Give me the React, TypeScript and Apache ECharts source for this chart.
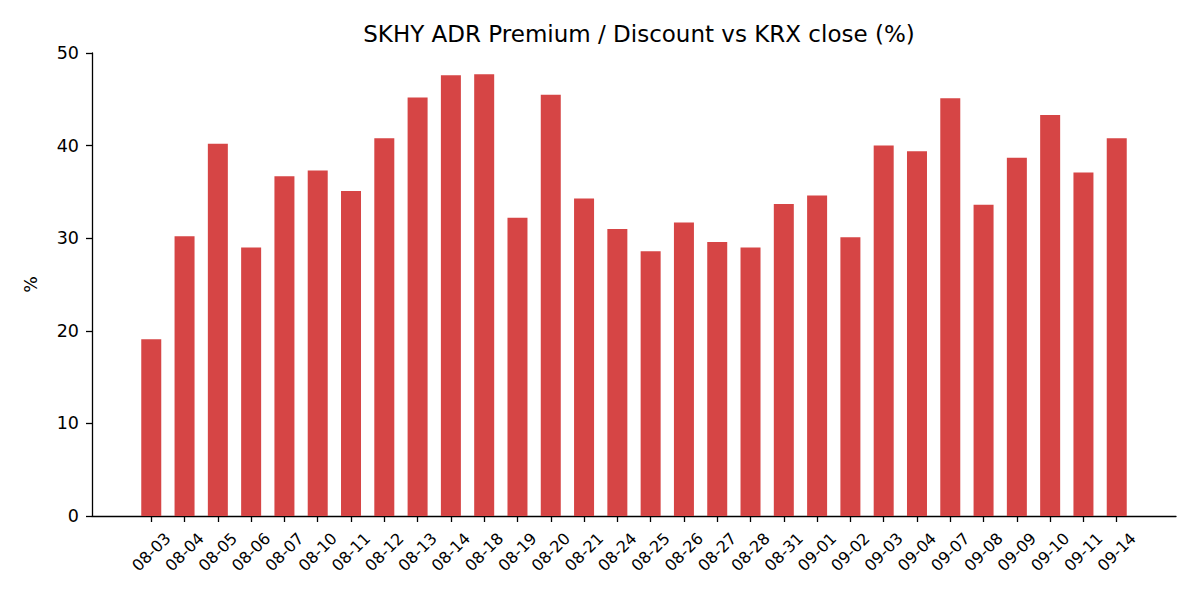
import { useEffect, useRef } from "react";
import * as echarts from "echarts";

const dates = [
  "08-03", "08-04", "08-05", "08-06", "08-07", "08-10", "08-11", "08-12",
  "08-13", "08-14", "08-18", "08-19", "08-20", "08-21", "08-24", "08-25",
  "08-26", "08-27", "08-28", "08-31", "09-01", "09-02", "09-03", "09-04",
  "09-07", "09-08", "09-09", "09-10", "09-11", "09-14"
];

const premium = [
  19.1, 30.2, 40.2, 29.0, 36.7, 37.3, 35.1, 40.8,
  45.2, 47.6, 47.7, 32.2, 45.5, 34.3, 31.0, 28.6,
  31.7, 29.6, 29.0, 33.7, 34.6, 30.1, 40.0, 39.4,
  45.1, 33.6, 38.7, 43.3, 37.1, 40.8
];

const yTicks = [0, 10, 20, 30, 40, 50];

const FONT = "DejaVu Sans";

export default function App() {
  const ref = useRef<HTMLDivElement | null>(null);

  useEffect(() => {
    if (!ref.current) return undefined;
    const chart = echarts.init(ref.current, undefined, { renderer: "svg" });
    const idx = dates.map((_, i) => i);

    chart.setOption({
      animation: false,
      backgroundColor: "#ffffff",
      title: {
        text: "SKHY ADR Premium / Discount vs KRX close (%)",
        left: 634,
        top: 17,
        textAlign: "center",
        textStyle: { fontFamily: FONT, fontSize: 23, fontWeight: "normal", color: "#000" }
      },
      grid: { left: 92, right: 24, top: 53, bottom: 84 },
      xAxis: {
        type: "value",
        min: -1.78,
        max: 30.78,
        splitLine: { show: false },
        axisLine: { show: true, onZero: false, lineStyle: { color: "#000", width: 1.3 } },
        axisTick: {
          show: true,
          customValues: idx,
          length: 6,
          lineStyle: { color: "#000", width: 1.3 }
        },
        axisLabel: {
          customValues: idx,
          rotate: 45,
          align: "center",
          verticalAlign: "middle",
          margin: 36,
          fontFamily: FONT,
          fontSize: 16,
          color: "#000",
          formatter: (v: number) => dates[Math.round(v)] ?? ""
        }
      },
      yAxis: {
        type: "value",
        min: 0,
        max: 50,
        interval: 10,
        name: "%",
        nameLocation: "middle",
        nameRotate: 90,
        nameGap: 52,
        nameTextStyle: { fontFamily: FONT, fontSize: 17.5, color: "#000" },
        splitLine: { show: false },
        axisLine: { show: true, onZero: false, lineStyle: { color: "#000", width: 1.3 } },
        axisTick: { show: true, length: 6, lineStyle: { color: "#000", width: 1.3 } },
        axisLabel: {
          margin: 13,
          fontFamily: FONT,
          fontSize: 17.5,
          color: "#000",
          formatter: (v: number) => (yTicks.includes(v) ? String(v) : "")
        }
      },
      series: [
        {
          type: "bar",
          barWidth: 20,
          itemStyle: { color: "#d64545" },
          data: premium.map((v, i) => [i, v])
        }
      ]
    });

    return () => {
      chart.dispose();
    };
  }, []);

  return (
    <div
      ref={ref}
      style={{ position: "fixed", left: 0, top: 0, width: 1200, height: 600 }}
    />
  );
}
